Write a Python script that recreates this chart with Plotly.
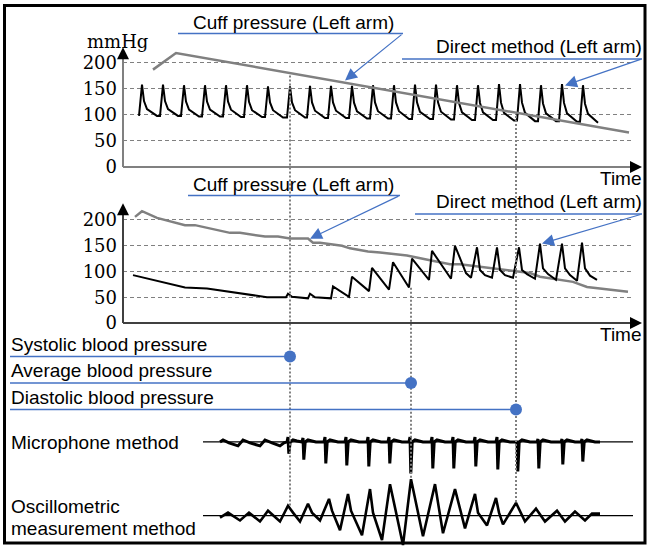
import plotly.graph_objects as go

W, H = 648, 557

# ---------------- data (time in arbitrary units, pressure in mmHg) ----------------
y_ticks = [0, 50, 100, 150, 200]

# upper chart: cuff pressure (left arm)
top_cuff_t = [153, 176, 629]
top_cuff_p = [187, 219, 66]

# upper chart: direct method, one entry per beat
top_beat_t = [142, 163, 184, 205, 226, 247, 268, 290, 310, 331, 352,
              373, 394, 415, 436, 457, 478, 499, 520, 541, 562, 583]
top_peak = [158, 158, 157, 157, 157, 157, 155, 155, 156, 156, 156,
            157, 157, 158, 158, 157, 157, 159, 159, 157, 159, 157]
top_notch = [111, 111, 110, 110, 110, 109, 109, 109, 108, 108, 107,
             107, 107, 106, 106, 105, 105, 104, 104, 103, 103, 102]
top_trough = [98, 98, 97, 97, 96, 96, 95, 95, 94, 94, 93,
              93, 92, 92, 91, 90, 90, 89, 88, 88, 87, 85]

# lower chart: cuff pressure (left arm)
bot_cuff_t = [135, 142, 157, 185, 195, 230, 240, 265, 278, 290, 308, 313, 320,
              342, 350, 368, 380, 407, 430, 450, 460, 490, 510, 530, 540, 573, 587, 628]
bot_cuff_p = [206, 217, 204, 190, 190, 175, 175, 168, 168, 164, 164, 156, 156,
              150, 145, 139, 137, 131, 122, 114, 114, 107, 103, 97, 90, 80, 70, 61]

# lower chart: direct method
bot_direct_t = [133, 157, 185, 207, 233, 257, 267, 286, 288, 292, 308, 310, 315, 331,
                333, 349, 352, 369, 372, 389, 393, 409, 412, 429, 432, 451,
                455, 466, 471, 477, 480, 485, 492, 497, 500, 505, 513,
                519, 522, 527, 535, 540, 543, 548, 556, 562, 565, 570, 577,
                582, 585, 590, 597]
bot_direct_p = [93, 82, 69, 67, 59, 53, 50, 50, 57, 51, 48, 57, 50, 48,
                71, 51, 90, 62, 107, 65, 118, 69, 125, 84, 140, 86,
                150, 97, 88, 147, 103, 93, 88, 147, 103, 93, 88,
                147, 103, 95, 86, 154, 106, 95, 84, 154, 106, 93, 82,
                156, 106, 92, 84]

# microphone method (arbitrary amplitude)
mic_pre_t = [220, 223, 229, 238, 243, 250, 260, 265, 272, 280, 284]
mic_pre_v = [0, 2, -1, -4, 2, -1, -4, 2, -1, -4, -1]
mic_spike_t = [288, 303, 325, 346, 368, 389, 410, 432, 453, 475, 497, 517, 538, 562, 582]
mic_up = [5, 4, 5, 5, 5, 5, 5, 5, 5, 5, 5, 1, 3, 3, 3]
mic_down = [-12, -18, -22, -24, -25, -22, -32, -27, -27, -25, -28, -30, -27, -23, -20]
mic_tail_t = [600]
mic_tail_v = [0]

# oscillometric measurement method (arbitrary amplitude)
osc_t = [220, 228, 240, 249, 260, 268, 280, 288, 293, 300, 308, 312, 320, 329, 332,
         340, 348, 351, 362, 370, 373, 382, 390, 403, 411, 423, 435, 443, 455, 465,
         475, 478, 487, 496, 499, 503, 516, 525, 536, 545, 557, 565, 575, 585, 592, 600]
osc_v = [-2, 3, -5, 3, -6, 5, -6, 10, 3, -6, 12, 3, -5, 17, 5,
         -15, 22, 5, -20, 27, 3, -25, 32, -30, 37, -21, 32, -18, 27, -13,
         22, 3, -10, 18, 3, -9, 13, -6, 7, -6, 5, -6, 4, -5, 2, 2]

# systolic / average / diastolic time points
event_names = ["Systolic blood pressure", "Average blood pressure", "Diastolic blood pressure"]
event_t = [290, 411, 516]

# ---------------- style / layout constants ----------------
SANS = "Liberation Sans, Arial, sans-serif"
SERIF = "DejaVu Serif, serif"
BLUE = "#4472C4"
GRAY = "#808080"
TXT = 19


def py(y):
    return 1 - y / H


def pulse_train(times, peaks, notches, troughs, start):
    xs, ys = [], []
    prev = start
    for t, pk, nt, tr in zip(times, peaks, notches, troughs):
        xs += [t - 3, t, t + 2, t + 5, t + 15]
        ys += [prev, pk, (pk + nt) / 2 - 8, nt, tr]
        prev = tr
    return xs, ys


def mic_wave():
    xs, ys = list(mic_pre_t), list(mic_pre_v)
    for t, u, d in zip(mic_spike_t, mic_up, mic_down):
        xs += [t - 1, t, t + 0.8, t + 2.2, t + 5, t + 9, t + 13]
        ys += [0, u, d, 0, 2, 1, 0]
    return xs + mic_tail_t, ys + mic_tail_v


fig = go.Figure()

# upper chart
tx, ty = pulse_train(top_beat_t, top_peak, top_notch, top_trough, top_trough[0])
fig.add_trace(go.Scatter(x=tx, y=ty, mode='lines', line=dict(color='black', width=2),
                         xaxis='x', yaxis='y'))
fig.add_trace(go.Scatter(x=top_cuff_t, y=top_cuff_p, mode='lines',
                         line=dict(color=GRAY, width=2.5), xaxis='x', yaxis='y'))

# lower chart
fig.add_trace(go.Scatter(x=bot_cuff_t, y=bot_cuff_p, mode='lines',
                         line=dict(color=GRAY, width=2.5), xaxis='x2', yaxis='y2'))
fig.add_trace(go.Scatter(x=bot_direct_t, y=bot_direct_p, mode='lines',
                         line=dict(color='black', width=2), xaxis='x2', yaxis='y2'))

# microphone / oscillometric
mx, my = mic_wave()
fig.add_trace(go.Scatter(x=mx, y=my, mode='lines', line=dict(color='black', width=3),
                         xaxis='x3', yaxis='y3'))
fig.add_trace(go.Scatter(x=osc_t, y=osc_v, mode='lines', line=dict(color='black', width=2.6),
                         xaxis='x4', yaxis='y4'))

# event dots
row_y = [363, 390, 417]
fig.add_trace(go.Scatter(x=event_t, y=row_y, mode='markers',
                         marker=dict(color=BLUE, size=12), xaxis='x5', yaxis='y5'))

shapes = []
annotations = []

# outer frame
shapes.append(dict(type='rect', xref='x5', yref='y5', x0=4.5, x1=645, y0=5.5, y1=553,
                   line=dict(color='black', width=3)))

# vertical dotted guides
guide_top = [77, 293, 118]
guide_bot = [515, 487, 512]
for t, y0, y1 in zip(event_t, guide_top, guide_bot):
    shapes.append(dict(type='line', xref='x5', yref='y5', x0=t, x1=t, y0=y0, y1=y1, layer='below',
                       line=dict(color=GRAY, width=2, dash='2px,2px')))

# event labels with underline
for name, t, yl in zip(event_names, event_t, row_y):
    shapes.append(dict(type='line', xref='x5', yref='y5', x0=10, x1=t, y0=yl, y1=yl,
                       line=dict(color=BLUE, width=1.5), layer='below'))
    annotations.append(dict(xref='x5', yref='y5', x=9, y=yl - 12.5, text=name, showarrow=False,
                            xanchor='left', yanchor='middle', font=dict(family=SANS, size=TXT, color='black')))

# axis arrows
for zero_y, tip_y, col in [(170, 48, GRAY), (329, 207, '#404040')]:
    shapes.append(dict(type='line', xref='x5', yref='y5', x0=123, x1=123, y0=zero_y, y1=tip_y + 6,
                       line=dict(color=col, width=2)))
    shapes.append(dict(type='line', xref='x5', yref='y5', x0=123, x1=636, y0=zero_y, y1=zero_y,
                       line=dict(color=col, width=2)))
    annotations.append(dict(xref='x5', yref='y5', axref='x5', ayref='y5', x=123, y=tip_y,
                            ax=123, ay=tip_y + 10, text='', showarrow=True, arrowhead=2,
                            arrowsize=1.2, arrowwidth=2, arrowcolor='black'))
    annotations.append(dict(xref='x5', yref='y5', axref='x5', ayref='y5', x=642, y=zero_y,
                            ax=630, ay=zero_y, text='', showarrow=True, arrowhead=2,
                            arrowsize=1.2, arrowwidth=2, arrowcolor='black'))
    annotations.append(dict(xref='x5', yref='y5', x=644, y=zero_y + 11.5, text='Time', showarrow=False,
                            xanchor='right', yanchor='middle', font=dict(family=SANS, size=TXT, color='black')))

annotations.append(dict(xref='x5', yref='y5', x=117, y=42, text='mmHg', showarrow=False,
                        font=dict(family=SERIF, size=18, color='black')))

# callouts: (text, text x, anchor, text y, underline x0, x1, y, arrow tip)
callouts = [
    ("Cuff pressure (Left arm)", 191, 'left', 23, 178, 403, 34, (345, 82)),
    ("Direct method (Left arm)", 644, 'right', 47, 402, 642, 60, (565, 87)),
    ("Cuff pressure (Left arm)", 191, 'left', 187.5, 188, 400, 199, (310, 243)),
    ("Direct method (Left arm)", 644, 'right', 205.5, 415, 642, 218, (542, 248)),
]
for text, xt, anc, yt, u0, u1, uy, tip in callouts:
    annotations.append(dict(xref='x5', yref='y5', x=xt, y=yt, text=text, showarrow=False,
                            xanchor=anc, yanchor='middle', font=dict(family=SANS, size=TXT, color='black')))
    shapes.append(dict(type='line', xref='x5', yref='y5', x0=u0, x1=u1, y0=uy, y1=uy,
                       line=dict(color=BLUE, width=1.5)))
    annotations.append(dict(xref='x5', yref='y5', axref='x5', ayref='y5', x=tip[0], y=tip[1],
                            ax=u1, ay=uy, text='', showarrow=True, arrowhead=2,
                            arrowsize=2, arrowwidth=1.2, arrowcolor=BLUE))

# bottom text labels
for text, yt in [('Microphone method', 450.5), ('Oscillometric', 515.5), ('measurement method', 538.5)]:
    annotations.append(dict(xref='x5', yref='y5', x=9, y=yt, text=text, showarrow=False,
                            xanchor='left', yanchor='middle', font=dict(family=SANS, size=TXT, color='black')))

# baselines of the two lower signals
for xr, yr in [('x3', 'y3'), ('x4', 'y4')]:
    shapes.append(dict(type='line', xref=xr, yref=yr, x0=203, x1=633, y0=0, y1=0, layer='below',
                       line=dict(color='black', width=1.2)))

hidden = dict(visible=False, showgrid=False, zeroline=False)


def chart_y(zero_px, top_px, ppu):
    return dict(domain=[py(zero_px), py(top_px)], range=[0, (zero_px - top_px) / ppu],
                tickvals=y_ticks, showgrid=True, gridcolor=GRAY, gridwidth=1, griddash='4px,3px',
                zeroline=False, showline=False, ticks='', ticklabelstandoff=5,
                tickfont=dict(family=SERIF, size=18, color='black'))


chart_x = dict(domain=[123 / W, 633 / W], range=[123, 633], **hidden)
full_x = dict(domain=[0, 1], range=[0, W], **hidden)

fig.update_layout(
    width=W, height=H,
    margin=dict(l=0, r=0, t=0, b=0),
    paper_bgcolor='white', plot_bgcolor='rgba(0,0,0,0)',
    showlegend=False,
    xaxis=dict(chart_x, anchor='y'),
    yaxis=dict(chart_y(170, 40, 0.53), anchor='x'),
    xaxis2=dict(chart_x, anchor='y2'),
    yaxis2=dict(chart_y(329, 200, 0.525), anchor='x2'),
    xaxis3=dict(full_x, anchor='y3'),
    yaxis3=dict(domain=[py(490), py(436)], range=[450 - 490, 450 - 436], anchor='x3', **hidden),
    xaxis4=dict(full_x, anchor='y4'),
    yaxis4=dict(domain=[0, py(482)], range=[525 - 557, 525 - 482], anchor='x4', **hidden),
    xaxis5=dict(full_x, anchor='y5'),
    yaxis5=dict(domain=[0, 1], range=[H, 0], anchor='x5', **hidden),
    shapes=shapes,
    annotations=annotations,
)

page_fix = ("var d=document;"
            "d.documentElement.style.overflow='hidden';d.documentElement.style.height='557px';"
            "d.body.style.margin='0px';d.body.style.height='557px';d.body.style.overflow='hidden';")
fig.write_html("out.html", config={'displayModeBar': False}, post_script=page_fix)
